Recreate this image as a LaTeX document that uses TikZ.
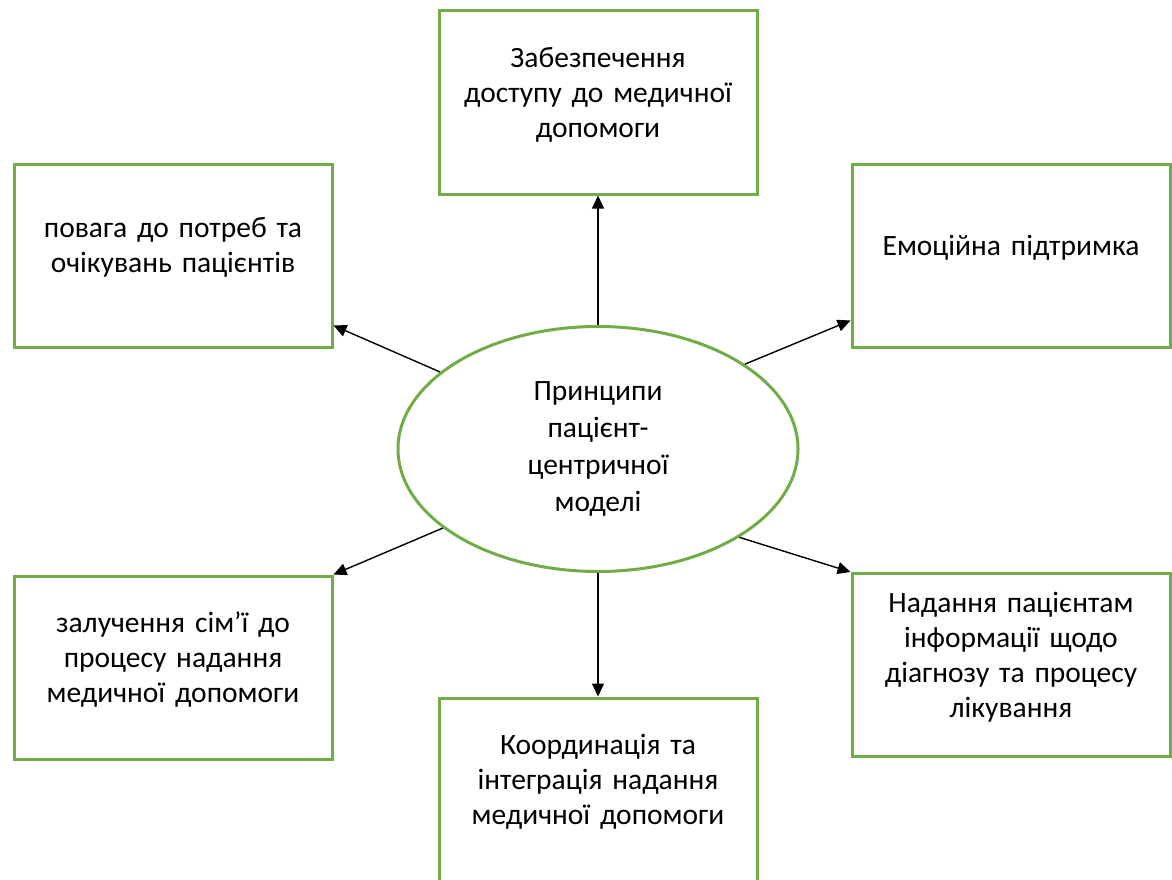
\documentclass[tikz,border=0pt]{standalone}
\usepackage{fontspec}
\setmainfont{Carlito}[WordSpace=0.8]
\usetikzlibrary{arrows.meta,shapes.geometric}
\definecolor{boxgreen}{HTML}{70AD47}
\newcommand\boxgap{\par\vspace*{16pt}}

\begin{document}
\begin{tikzpicture}[x=1pt,y=-1pt,
  box/.style={draw=boxgreen,line width=3pt,minimum width=318pt,minimum height=183pt,align=center,text width=300pt,execute at end node=\boxgap,font=\fontsize{29.5}{35}\selectfont},
  arr/.style={line width=1.4pt,-{Triangle[length=13pt,width=12pt]}}]

\useasboundingbox (0,0) rectangle (1172,880);

\node[draw=boxgreen,line width=3pt,ellipse,minimum width=400pt,minimum height=245pt,align=center,font=\fontsize{29.5}{37}\selectfont] (C) at (598,449) {Принципи\\пацієнт-\\центричної\\моделі};

\node[box] (T) at (598,102.5) {Забезпечення\\доступу до медичної\\допомоги};
\node[box] (LT) at (173,255.5) {повага до потреб та\\очікувань пацієнтів};
\node[box] (RT) at (1011,255.5) {Емоційна підтримка};
\node[box] (LB) at (173,667.5) {залучення сім’ї до\\процесу надання\\медичної допомоги};
\node[box] (RB) at (1011,665) {Надання пацієнтам\\інформації щодо\\діагнозу та процесу\\лікування};
\node[box] (B) at (598,789.5) {Координація та\\інтеграція надання\\медичної допомоги};

\draw[arr] (C.north) -- (T.south);
\draw[arr] (C.south) -- (B.north);
\draw[arr] (C.154) -- ([yshift=23pt]LT.south east);
\draw[arr] (C.30) -- ([yshift=28pt]RT.south west);
\draw[arr] (C.207) -- (LB.north east);
\draw[arr] (C.328) -- (RB.north west);

\end{tikzpicture}
\end{document}
